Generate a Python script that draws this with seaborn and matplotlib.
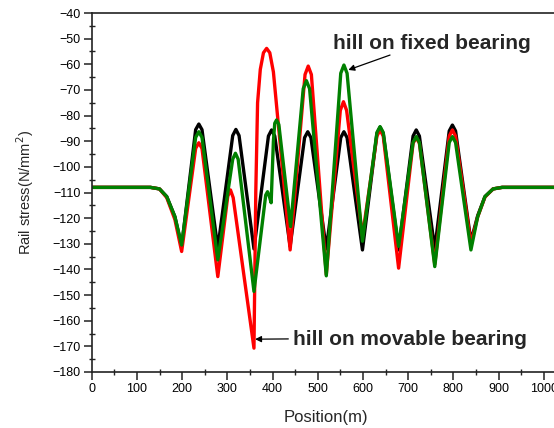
import matplotlib
matplotlib.use("Agg")
import matplotlib.pyplot as plt
from matplotlib.ticker import MultipleLocator
import numpy as np
import pandas as pd
import seaborn as sns

# Rail stress along the bridge for three bearing arrangements
pos_base = [0, 130, 150, 166, 184, 199, 230, 237, 244, 279, 312, 319, 326, 359,
            391, 398, 405, 439, 471, 478, 485, 519, 551, 558, 565, 599, 631, 638,
            645, 679, 711, 718, 725, 759, 791, 798, 805, 839, 854, 870, 888, 908, 1040]
stress_base = [-108, -108, -108.6, -111.6, -119.4, -131, -85.5, -83.3, -85.5, -131.7,
               -87.8, -85.4, -87.8, -132, -88, -85.6, -88, -131, -88.6, -86.3, -88.6,
               -132, -88.6, -86.3, -88.6, -132.4, -87, -84.5, -87, -132.4, -88, -85.6,
               -88, -132, -86, -83.7, -86, -129, -119, -111.6, -108.6, -108, -108]

pos_movable = [0, 130, 150, 166, 184, 199, 230, 237, 244, 279, 301, 307, 313, 359,
               363, 367, 373, 380, 387, 394, 402, 439, 472, 479, 486, 519, 550, 557,
               564, 599, 631, 638, 645, 679, 711, 718, 725, 759, 791, 798, 805, 839,
               854, 870, 888, 908, 1040]
stress_movable = [-108, -108, -108.6, -112, -120.5, -133, -92.8, -90.6, -92.8, -142.8,
                  -111.5, -109, -112, -170.7, -110, -75, -62, -55.5, -53.8, -55.5, -63,
                  -132.4, -64, -60.7, -64, -142, -78, -74.6, -78, -127, -88, -85.6,
                  -88, -139.5, -90.8, -88.6, -90.8, -138, -88, -85.6, -88, -130, -119.5,
                  -111.8, -108.6, -108, -108]

pos_fixed = [0, 130, 150, 166, 184, 199, 230, 237, 244, 279, 312, 318, 324, 359,
             385, 389, 393, 397, 402, 405, 409, 414, 440, 468, 475, 482, 519, 551,
             558, 565, 599, 631, 638, 645, 679, 711, 718, 725, 759, 791, 798, 805,
             839, 854, 870, 888, 908, 1040]
stress_fixed = [-108, -108, -108.6, -111.6, -119.4, -130.5, -88.5, -86.3, -88.5, -136.3,
                -97, -94.7, -97, -148.6, -111, -109.7, -111.5, -114, -90, -83, -81.7,
                -83.5, -123.3, -69.5, -66.4, -69.5, -142.5, -63.5, -60.3, -63.5, -129,
                -86.6, -84.3, -86.6, -131, -90.5, -88.2, -90.5, -138.9, -90.5, -88.2,
                -90.5, -132.4, -119.4, -111.6, -108.6, -108, -108]

case_names = ["without hill", "hill on movable bearing", "hill on fixed bearing"]
case_colors = ["#000000", "#ff0000", "#008000"]

x_ticks = list(range(0, 1001, 100))
y_ticks = list(range(-180, -39, 10))

frames = []
for name, xs, ys in zip(case_names,
                        [pos_base, pos_movable, pos_fixed],
                        [stress_base, stress_movable, stress_fixed]):
    frames.append(pd.DataFrame({"Position": xs, "Stress": ys, "case": name}))
df = pd.concat(frames, ignore_index=True)

sns.set_theme(style="white")
plt.rcParams["font.family"] = ["Liberation Sans", "DejaVu Sans"]

W, H = 554, 428
fig = plt.figure(figsize=(W / 100, H / 100), dpi=100)
left_px, right_px, top_px, bottom_px = 91.7, 560, 13, 372
ax = fig.add_axes([left_px / W, 1 - bottom_px / H,
                   (right_px - left_px) / W, (bottom_px - top_px) / H])

sns.lineplot(data=df, x="Position", y="Stress", hue="case", hue_order=case_names,
             palette=case_colors, sort=False, estimator=None, legend=False,
             linewidth=2.4, ax=ax)

ax.set_xlim(0, (right_px - left_px) / 0.452)
ax.set_ylim(-180, -40)
ax.set_xticks(x_ticks)
ax.set_yticks(y_ticks)
ax.xaxis.set_minor_locator(MultipleLocator(50))
ax.yaxis.set_minor_locator(MultipleLocator(5))
ax.tick_params(which="major", direction="out", length=6, width=1.1, labelsize=9,
               colors="#222222", labelcolor="black", pad=2)
ax.tick_params(which="minor", direction="inout", length=4, width=1.0, colors="#222222")
ax.tick_params(axis="x", which="both", bottom=True, top=False)
ax.tick_params(axis="y", which="both", left=True, right=False)

for side in ["left", "bottom", "top"]:
    ax.spines[side].set_visible(True)
    ax.spines[side].set_linewidth(1.2)
    ax.spines[side].set_color("#222222")
ax.spines["right"].set_visible(False)

ax.set_xlabel("Position(m)", fontsize=12, labelpad=11)
ax.set_ylabel("Rail stress(N/mm$^2$)", fontsize=10.5, labelpad=12)

# Callouts for the two hill placements
ax.text(534, -51.7, "hill on fixed bearing", fontsize=15, fontweight="bold",
        ha="left", va="center")
ax.annotate("", xy=(567.7, -62.2), xytext=(660, -56.4),
            arrowprops=dict(arrowstyle="-|>", color="black", lw=0.9,
                            mutation_scale=9, shrinkA=0, shrinkB=0))
ax.text(446, -167.5, "hill on movable bearing", fontsize=15, fontweight="bold",
        ha="left", va="center")
ax.annotate("", xy=(361.5, -167.2), xytext=(435, -167.1),
            arrowprops=dict(arrowstyle="-|>", color="black", lw=0.9,
                            mutation_scale=9, shrinkA=0, shrinkB=0))

fig.savefig("out.png", dpi=100)
